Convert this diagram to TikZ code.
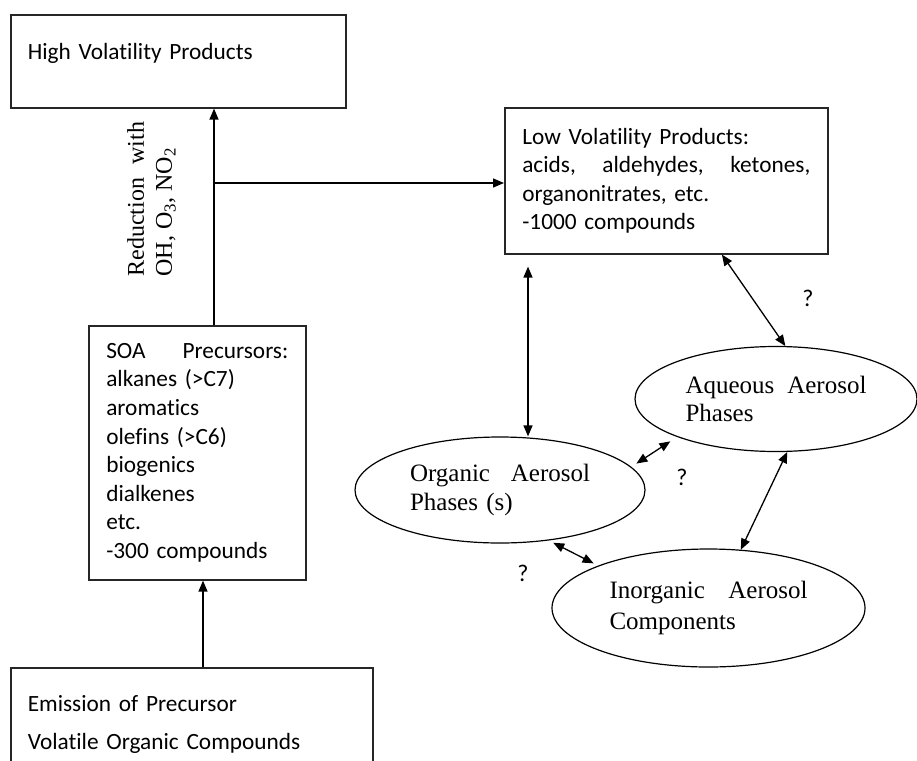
\documentclass[tikz,border=0pt]{standalone}
\usepackage{fontspec}
\setmainfont{Liberation Serif}
\newfontfamily\calibri[Ligatures=NoCommon]{Carlito}
\usepackage{tikz}
\usetikzlibrary{arrows.meta,shapes.geometric}

\begin{document}
\begin{tikzpicture}[x=1pt, y=-1pt, line width=1.3pt,
    box/.style={rectangle, draw=black!85, line width=1.6pt, anchor=north west, align=left,
      inner xsep=0pt, font=\calibri\fontsize{23.3}{28.6}\selectfont},
    phase/.style={ellipse, draw, line width=1.2pt, align=left, inner sep=0pt,
      font=\fontsize{25}{28.5}\selectfont},
    link/.style={-{Triangle[length=11pt,width=9pt]}},
    twoway/.style={{Triangle[length=11pt,width=9pt]}-{Triangle[length=11pt,width=9pt]}}]
    \useasboundingbox (0,0) rectangle (917,760);
    \clip (0,0) rectangle (917,760);

    \node[box, minimum width=335pt, minimum height=93pt, text width=301pt, text depth=19pt] (high) at (10,14) {High Volatility Products};
    \node[box, minimum width=323pt, minimum height=146pt, text width=288pt] (low) at (504,107)
      {Low Volatility Products:\\ acids,\hfill aldehydes,\hfill ketones,\\ organonitrates, etc.\\ -1000 compounds};
    \node[box, minimum width=217pt, minimum height=254pt, text width=182pt] (soa) at (88,325)
      {SOA\hfill Precursors:\\ alkanes (>C7)\\ aromatics\\ olefins (>C6)\\ biogenics\\ dialkenes\\ etc.\\ -300 compounds};
    \node[box, minimum width=362pt, minimum height=114pt, text width=328pt,
      font=\calibri\fontsize{23.3}{38}\selectfont] (emission) at (10,667)
      {Emission of Precursor\\ Volatile Organic Compounds};

    \node[phase, minimum width=282pt, minimum height=105pt, text width=181pt] (aqueous) at (776,399)
      {Aqueous\hfill Aerosol\\ Phases};
    \node[phase, minimum width=290pt, minimum height=106pt, text width=180pt] (organic) at (500,490)
      {Organic\hfill Aerosol\\ Phases (s)};
    \node[phase, minimum width=313pt, minimum height=118pt, text width=198pt,
      font=\fontsize{25}{31}\selectfont] (inorganic) at (708.5,608)
      {Inorganic\hfill Aerosol\\ Components};

    \node[rotate=90, anchor=west, align=left, inner sep=0pt, font=\fontsize{24}{28}\selectfont] (reduction) at (151.6,277)
      {Reduction\hspace{0.3em} with\\ OH, O\textsubscript{3}, NO\textsubscript{2}};

    \tikzstyle{every node}=[font=\calibri\fontsize{24}{28}\selectfont]
    \node (q1) at (808,298) {?};
    \node (q2) at (682,477) {?};
    \node (q3) at (523,573) {?};

    \coordinate (split) at (214,183);
    \coordinate (feed) at (203,620);
    \coordinate (drop) at (528,300);

    \path
    (soa.north -| split)      edge [link] (high.south -| split)
    (split)                   edge [link] (split -| low.west)
    (emission.north -| feed)  edge [link] (soa.south -| feed)
    (low.south -| drop)       edge [twoway, shorten <=12pt] (organic.north -| drop)
    (low.-53)                 edge [twoway] (aqueous.80)
    (organic.10)              edge [twoway, shorten <=6pt, shorten >=8pt] (aqueous.201)
    (organic.-46)             edge [twoway, shorten <=5pt, shorten >=5pt] (inorganic.159.7)
    (aqueous.-78)             edge [twoway] (inorganic.61);

  \end{tikzpicture}
\end{document}
